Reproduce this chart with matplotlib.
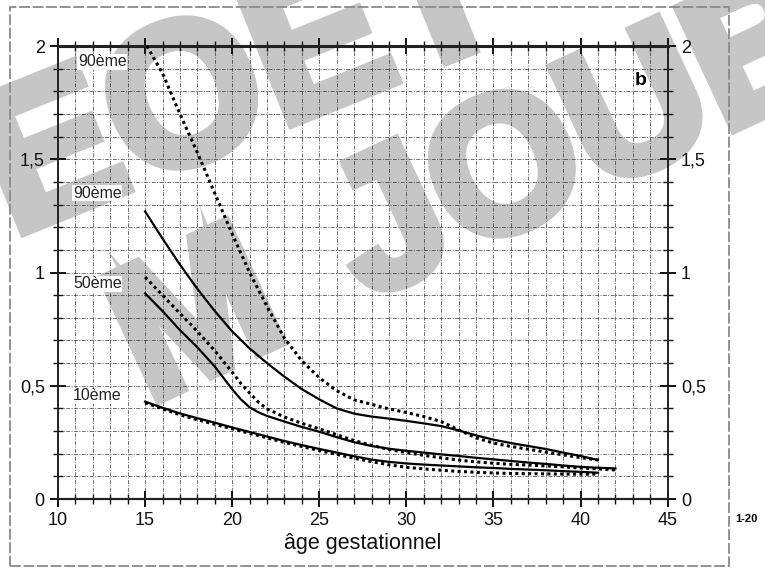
import matplotlib

matplotlib.use("Agg")
import matplotlib.pyplot as plt
import matplotlib.patheffects as pe
from matplotlib.patches import Rectangle
from matplotlib.ticker import MultipleLocator, FixedLocator

plt.rcParams["font.family"] = ["Liberation Sans", "DejaVu Sans"]

# dotted curves (first reference set)
weeks_p90_dot = [15.1, 16, 17, 18, 19, 20, 21, 22, 23, 24, 25, 26, 27, 28, 29, 30,
                 31, 32, 33, 34, 35, 36, 37, 38, 39, 40, 41]
p90_dot = [2.0, 1.88, 1.70, 1.53, 1.35, 1.17, 1.0, 0.85, 0.71, 0.61, 0.535, 0.478,
           0.438, 0.418, 0.398, 0.382, 0.364, 0.342, 0.305, 0.27, 0.247, 0.232,
           0.22, 0.207, 0.195, 0.183, 0.172]

weeks_p50_dot = [15, 16, 17, 18, 19, 20, 20.5, 21, 21.5, 22, 23, 24, 25, 26, 27, 28,
                 29, 30, 31, 32, 33, 34, 35, 36, 37, 38, 39, 40, 41, 42]
p50_dot = [0.98, 0.90, 0.82, 0.74, 0.655, 0.56, 0.51, 0.468, 0.428, 0.398, 0.362,
           0.334, 0.31, 0.284, 0.258, 0.237, 0.219, 0.205, 0.193, 0.182, 0.172,
           0.164, 0.158, 0.153, 0.15, 0.146, 0.142, 0.137, 0.133, 0.128]

weeks_p10_dot = list(range(15, 42))
p10_dot = [0.425, 0.398, 0.372, 0.35, 0.33, 0.31, 0.29, 0.27, 0.25, 0.232, 0.214,
           0.197, 0.18, 0.165, 0.151, 0.14, 0.133, 0.127, 0.122, 0.118, 0.115,
           0.113, 0.112, 0.111, 0.11, 0.11, 0.11]

# solid curves (second reference set)
weeks_p90 = [15, 16, 17, 18, 19, 20, 21, 22, 23, 24, 25, 26, 27, 28, 29, 30, 31,
             32, 33, 34, 35, 36, 37, 38, 39, 40, 41]
p90 = [1.27, 1.15, 1.035, 0.928, 0.83, 0.74, 0.665, 0.60, 0.54, 0.485, 0.44, 0.40,
       0.377, 0.364, 0.355, 0.345, 0.334, 0.322, 0.303, 0.281, 0.262, 0.247, 0.234,
       0.221, 0.205, 0.19, 0.172]

weeks_p50 = [15, 16, 17, 18, 19, 19.5, 20, 20.5, 21, 21.5, 22, 23, 24, 25, 26, 27,
             28, 29, 30, 31, 32, 33, 34, 35, 36, 37, 38, 39, 40, 41, 42]
p50 = [0.908, 0.83, 0.746, 0.67, 0.585, 0.535, 0.485, 0.44, 0.405, 0.383, 0.367,
       0.342, 0.318, 0.297, 0.273, 0.251, 0.234, 0.222, 0.213, 0.205, 0.197, 0.19,
       0.182, 0.175, 0.168, 0.161, 0.155, 0.148, 0.142, 0.138, 0.135]

weeks_p10 = list(range(15, 42))
p10 = [0.43, 0.403, 0.378, 0.357, 0.337, 0.316, 0.296, 0.276, 0.256, 0.238, 0.221,
       0.205, 0.189, 0.174, 0.164, 0.157, 0.152, 0.148, 0.144, 0.14, 0.137, 0.133,
       0.13, 0.127, 0.123, 0.12, 0.116]

curve_labels = ["90ème", "90ème", "50ème", "10ème"]
label_x = [11.15, 10.86, 10.86, 10.86]
label_y = [1.93, 1.35, 0.95, 0.455]

y_ticks = [0, 0.5, 1, 1.5, 2]
y_ticklabels = ["0", "0,5", "1", "1,5", "2"]
x_ticks = [10, 15, 20, 25, 30, 35, 40, 45]

fig = plt.figure(figsize=(7.65, 5.69), dpi=100)
ax = fig.add_axes([0.0758, 0.123, 0.797, 0.796])
ax.set_xlim(10, 45)
ax.set_ylim(0, 2)
ax.set_axisbelow(True)

ax.xaxis.set_major_locator(FixedLocator(x_ticks))
ax.xaxis.set_minor_locator(MultipleLocator(1))
ax.yaxis.set_major_locator(FixedLocator(y_ticks))
ax.yaxis.set_minor_locator(MultipleLocator(0.1))
ax.set_yticklabels(y_ticklabels)
ax.grid(True, which="both", color="#333333", linestyle=(0, (4, 1.5, 1, 1.5)),
        linewidth=0.7, alpha=0.7)

ax.tick_params(which="both", direction="inout", top=True, right=True,
               labelright=True, colors="#111111", labelsize=13)
ax.tick_params(which="major", length=11, width=1.4, pad=4)
ax.tick_params(which="minor", length=7, width=1.0)
for side, lw in [("bottom", 1.6), ("top", 2.2), ("left", 1.4), ("right", 1.4)]:
    ax.spines[side].set_linewidth(lw)
    ax.spines[side].set_color("#222222")

dotted = (0, (1, 1.1))
ax.plot(weeks_p90_dot, p90_dot, color="black", lw=2.2, linestyle=dotted, zorder=3)
ax.plot(weeks_p50_dot, p50_dot, color="black", lw=2.2, linestyle=dotted, zorder=3)
ax.plot(weeks_p10_dot, p10_dot, color="black", lw=2.2, linestyle=dotted, zorder=3)
ax.plot(weeks_p90, p90, color="black", lw=1.6, zorder=3)
ax.plot(weeks_p50, p50, color="black", lw=1.6, zorder=3)
ax.plot(weeks_p10, p10, color="black", lw=1.6, zorder=3)

for txt, lx, ly in zip(curve_labels, label_x, label_y):
    ax.text(lx, ly, txt, fontsize=11.5, color="#222222", va="center", ha="left",
            zorder=4, bbox=dict(facecolor="white", edgecolor="none", pad=0.5))

ax.text(43.45, 1.85, "b", fontsize=14, fontweight="bold", ha="center", va="center", zorder=4)
ax.set_xlabel("âge gestationnel", fontsize=15.5, labelpad=3, color="#111111")

# watermark, under the grid
wm_color = "#c6c6c6"
wm = dict(fontweight="bold", color=wm_color,
          transform=fig.transFigure, clip_on=False, zorder=0.3,
          ha="left", va="baseline", rotation_mode="anchor",
          path_effects=[pe.withStroke(linewidth=8, foreground=wm_color,
                                      joinstyle="miter")])
ax.text(12 / 765, 1 - 236 / 569, "EOET", rotation=22, fontsize=144, **wm)
ax.text(148 / 765, 1 - 404 / 569, "M", rotation=25, fontsize=138, **wm)
ax.text(366 / 765, 1 - 300 / 569, "JOUB", rotation=25, fontsize=138, **wm)

# scanned page frame
fig.patches.append(Rectangle((10 / 765, 1 - 566 / 569), 719 / 765, 559 / 569,
                             transform=fig.transFigure, fill=False, edgecolor="#8a8a8a",
                             linewidth=1.3, linestyle=(0, (6, 1.5))))
fig.text(735 / 765, 1 - 519 / 569, "1-20", fontsize=8, fontweight="bold", va="center")

fig.savefig("out.png", dpi=100)
